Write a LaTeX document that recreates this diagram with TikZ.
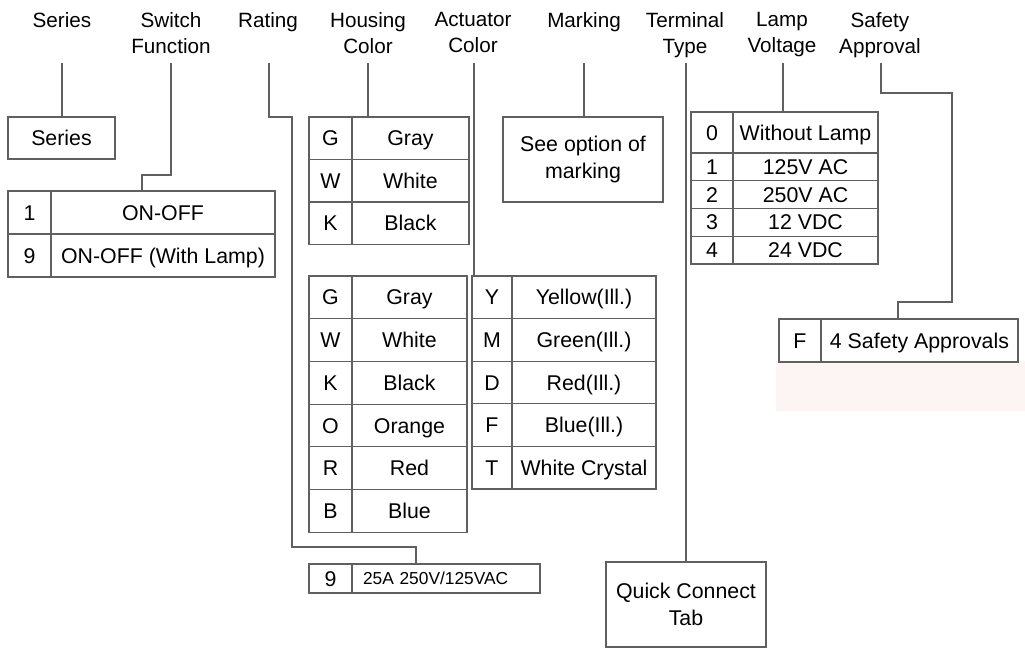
\documentclass[tikz,border=0pt]{standalone}
\usepackage{fontspec}
\setmainfont{Liberation Sans}
\usetikzlibrary{positioning}
\definecolor{linegray}{RGB}{96,96,96}
\definecolor{pinkbg}{RGB}{253,244,244}

\begin{document}
\begin{tikzpicture}[
        x=0.75pt, y=-0.75pt,
        head/.style = {font=\fontsize{15.5}{19.5}\selectfont, align=center, anchor=north, inner sep=0pt},
        box/.style 2 args = {draw=linegray, line width=0.8pt, inner sep=0pt, outer sep=0pt, anchor=north west, align=center,
            minimum width=#1*0.75pt, minimum height=#2*0.75pt, font=\fontsize{16}{20}\selectfont},
        cell/.style 2 args = {box={#1}{#2}, text height=11.4pt, text depth=0pt},
        link/.style = {draw=linegray, line width=0.8pt}
    ]
        \useasboundingbox (0,0) rectangle (1025,651);
        \fill[pinkbg] (776,361) rectangle (1025,411);

        % headings
        \node[head] (hsr) at (62,12) {Series};
        \node[head] (hsw) at (171,12) {Switch\\Function};
        \node[head] (hrt) at (268,12) {Rating};
        \node[head] (hhc) at (368,12) {Housing\\Color};
        \node[head] (hac) at (473,12) {Actuator\\Color};
        \node[head] (hmk) at (584,12) {Marking};
        \node[head] (htt) at (685,12) {Terminal\\Type};
        \node[head] (hlv) at (782,12) {Lamp\\Voltage};
        \node[head] (hsa) at (880,12) {Safety\\Approval};

        % series
        \node[cell={107}{42}] (sr) at (8,117) {Series};

        % switch function
        \node[cell={43}{43}] (sw1c) at (8,191) {1};
        \node[cell={224}{43}] (sw1t) [right=0pt of sw1c] {ON-OFF};
        \node[cell={43}{43}] (sw9c) [below=0pt of sw1c] {9};
        \node[cell={224}{43}] (sw9t) [right=0pt of sw9c] {ON-OFF (With Lamp)};

        % housing color
        \node[cell={43}{42.5}] (hcGc) at (309,117) {G};
        \node[cell={117}{42.5}] (hcGt) [right=0pt of hcGc] {Gray};
        \node[cell={43}{42.5}] (hcWc) [below=0pt of hcGc] {W};
        \node[cell={117}{42.5}] (hcWt) [right=0pt of hcWc] {White};
        \node[cell={43}{42.5}] (hcKc) [below=0pt of hcWc] {K};
        \node[cell={117}{42.5}] (hcKt) [right=0pt of hcKc] {Black};

        % actuator color
        \node[cell={43}{42.7}] (acGc) at (309,276) {G};
        \node[cell={115}{42.7}] (acGt) [right=0pt of acGc] {Gray};
        \node[cell={43}{42.7}] (acWc) [below=0pt of acGc] {W};
        \node[cell={115}{42.7}] (acWt) [right=0pt of acWc] {White};
        \node[cell={43}{42.7}] (acKc) [below=0pt of acWc] {K};
        \node[cell={115}{42.7}] (acKt) [right=0pt of acKc] {Black};
        \node[cell={43}{42.7}] (acOc) [below=0pt of acKc] {O};
        \node[cell={115}{42.7}] (acOt) [right=0pt of acOc] {Orange};
        \node[cell={43}{42.7}] (acRc) [below=0pt of acOc] {R};
        \node[cell={115}{42.7}] (acRt) [right=0pt of acRc] {Red};
        \node[cell={43}{42.7}] (acBc) [below=0pt of acRc] {B};
        \node[cell={115}{42.7}] (acBt) [right=0pt of acBc] {Blue};

        \node[cell={40}{42.6}] (acYc) at (472,276) {Y};
        \node[cell={144}{42.6}] (acYt) [right=0pt of acYc] {Yellow(Ill.)};
        \node[cell={40}{42.6}] (acMc) [below=0pt of acYc] {M};
        \node[cell={144}{42.6}] (acMt) [right=0pt of acMc] {Green(Ill.)};
        \node[cell={40}{42.6}] (acDc) [below=0pt of acMc] {D};
        \node[cell={144}{42.6}] (acDt) [right=0pt of acDc] {Red(Ill.)};
        \node[cell={40}{42.6}] (acFc) [below=0pt of acDc] {F};
        \node[cell={144}{42.6}] (acFt) [right=0pt of acFc] {Blue(Ill.)};
        \node[cell={40}{42.6}] (acTc) [below=0pt of acFc] {T};
        \node[cell={144}{42.6}] (acTt) [right=0pt of acTc] {White Crystal};

        % rating
        \node[cell={43}{29}] (rt9c) at (309,564) {9};
        \node[cell={188}{29}, font=\fontsize{13}{16}\selectfont, text height=9.3pt, text width=124.5pt, align=left]
            (rt9t) [right=0pt of rt9c] {25A 250V/125VAC};

        % marking and terminal
        \node[box={160}{85}] (mk) at (503,117) {See option of\\marking};
        \node[box={160}{85}] (tt) at (606,562) {Quick Connect\\Tab};

        % lamp voltage
        \node[cell={42}{41}] (lv0c) at (691,112) {0};
        \node[cell={145}{41}] (lv0t) [right=0pt of lv0c] {Without Lamp};
        \node[cell={42}{27.75}] (lv1c) [below=0pt of lv0c] {1};
        \node[cell={145}{27.75}] (lv1t) [right=0pt of lv1c] {125V AC};
        \node[cell={42}{27.75}] (lv2c) [below=0pt of lv1c] {2};
        \node[cell={145}{27.75}] (lv2t) [right=0pt of lv2c] {250V AC};
        \node[cell={42}{27.75}] (lv3c) [below=0pt of lv2c] {3};
        \node[cell={145}{27.75}] (lv3t) [right=0pt of lv3c] {12 VDC};
        \node[cell={42}{27.75}] (lv4c) [below=0pt of lv3c] {4};
        \node[cell={145}{27.75}] (lv4t) [right=0pt of lv4c] {24 VDC};

        % safety approval
        \node[cell={42}{43}] (saFc) at (779,319) {F};
        \node[cell={197}{43}] (saFt) [right=0pt of saFc] {4 Safety Approvals};

        % leader lines
        \coordinate (srtop) at (62,63);
        \coordinate (swtop) at (171,63);
        \coordinate (swbend) at (142,175);
        \coordinate (rttop) at (269,63);
        \coordinate (rtbend) at (292,117);
        \coordinate (rtjoin) at ([xshift=48pt]rt9t.north west);
        \coordinate (hctop) at (368,63);
        \coordinate (actop) at (474,63);
        \coordinate (mktop) at (584,63);
        \coordinate (tttop) at (686,63);
        \coordinate (lvtop) at (783,63);
        \coordinate (satop) at (881,63);
        \coordinate (sajoin) at ([xshift=57.75pt]saFt.north west);

        \draw[link] (srtop) -- (srtop |- sr.north);
        \draw[link] (swtop) |- (swbend) -- (swbend |- sw1t.north);
        \draw[link] (rttop) |- (rtbend) -- ++(0,430) -| (rtjoin);
        \draw[link] (hctop) -- (hctop |- hcGt.north);
        \draw[link] (actop) -- (actop |- acYc.north);
        \draw[link] (mktop) -- (mktop |- mk.north);
        \draw[link] (tttop) -- (tttop |- tt.north);
        \draw[link] (lvtop) -- (lvtop |- lv0t.north);
        \draw[link] (satop) -- ++(0,30) -- ++(71,0) -- ++(0,209) -| (sajoin);

    \end{tikzpicture}
\end{document}
